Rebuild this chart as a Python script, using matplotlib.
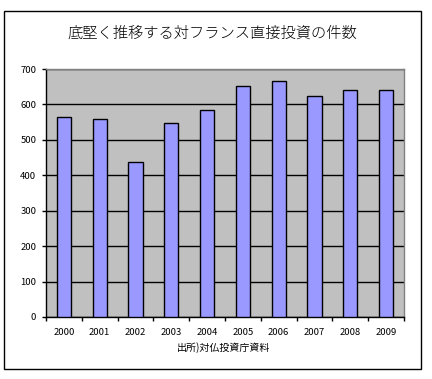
import matplotlib
matplotlib.use("Agg")
import matplotlib.pyplot as plt
from matplotlib.patches import Rectangle
from matplotlib.ticker import MultipleLocator, FixedLocator
import numpy as np

plt.rcParams['font.family'] = ['Noto Sans CJK JP', 'DejaVu Sans']

years = ['2000', '2001', '2002', '2003', '2004', '2005', '2006', '2007', '2008', '2009']
counts = [564, 558, 437, 547, 583, 652, 665, 624, 641, 641]
title = '底堅く推移する対フランス直接投資の件数'
source = '出所)対仏投資庁資料'

W, H = 432, 379
fig = plt.figure(figsize=(W / 100, H / 100), dpi=100)
fig.patch.set_facecolor('white')

# outer frame
fig.patches.append(Rectangle((4 / W, 1 - 369 / H), (421 - 4) / W, (369 - 11) / H,
                             transform=fig.transFigure, fill=False,
                             edgecolor='black', linewidth=1.0))

ax = fig.add_axes([46 / W, 1 - 317 / H, (404 - 46) / W, (317 - 69) / H])
ax.set_facecolor('#C0C0C0')
x = np.arange(len(years))
ax.bar(x, counts, width=0.4, color='#9999FF', edgecolor='black', linewidth=1.0, zorder=3)
ax.set_xlim(-0.5, len(years) - 0.5)
ax.set_ylim(0, 700)
ax.yaxis.set_major_locator(MultipleLocator(100))
ax.grid(axis='y', color='black', linewidth=1.0, zorder=1)
ax.set_axisbelow(True)

ax.set_xticks(x)
ax.set_xticklabels(years, fontsize=6.8)
ax.tick_params(axis='x', which='major', length=0, pad=8)
ax.xaxis.set_minor_locator(FixedLocator(np.arange(-0.5, len(years), 1.0)))
ax.tick_params(axis='x', which='minor', length=3, direction='out', width=1)
ax.tick_params(axis='y', length=3, direction='out', width=1, labelsize=6.8, pad=4)

for s in ['top', 'right']:
    ax.spines[s].set_color('#808080')
    ax.spines[s].set_linewidth(1.0)
for s in ['left', 'bottom']:
    ax.spines[s].set_color('black')
    ax.spines[s].set_linewidth(1.0)

fig.text(212 / W, 1 - 33 / H, title, ha='center', va='center', fontsize=11,
         fontweight='light')
fig.text(224 / W, 1 - 348 / H, source, ha='center', va='center', fontsize=7.2)

fig.savefig('out.png', dpi=100)
